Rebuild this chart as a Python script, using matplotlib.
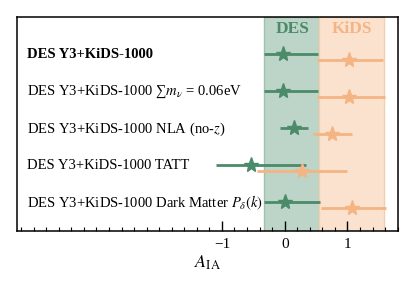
import matplotlib
matplotlib.use("Agg")
import matplotlib.pyplot as plt
from matplotlib.ticker import MultipleLocator, FixedLocator

plt.rcParams['font.family'] = ['Liberation Serif', 'DejaVu Serif']
plt.rcParams['mathtext.fontset'] = 'stix'

labels = [
    r"DES Y3+KiDS-1000",
    "DES Y3+KiDS-1000 \u2211$m_\\nu$ = 0.06eV",
    r"DES Y3+KiDS-1000 NLA (no-$z$)",
    r"DES Y3+KiDS-1000 TATT",
    r"DES Y3+KiDS-1000 Dark Matter $P_\delta(k)$",
]
des_center = [-0.03, -0.03, 0.15, -0.54, 0.0]
des_low = [-0.33, -0.33, -0.075, -1.09, -0.33]
des_high = [0.535, 0.535, 0.37, 0.34, 0.57]
kids_center = [1.03, 1.02, 0.75, 0.27, 1.07]
kids_low = [0.52, 0.52, 0.45, -0.44, 0.58]
kids_high = [1.57, 1.60, 1.07, 1.00, 1.61]
des_band = (-0.325, 0.54)
kids_band = (0.54, 1.58)

green = "#4b8b69"
orange = "#f4b483"

fig = plt.figure(figsize=(4.15, 2.9), dpi=100)
ax = fig.add_axes([0.0417, 0.2045, 0.9166, 0.7375])

ax.axvspan(*des_band, facecolor="#bdd5c8", edgecolor="#9fc2ae", lw=1.0, zorder=0)
ax.axvspan(*kids_band, facecolor="#fbe2cf", edgecolor="#f3cfae", lw=1.0, zorder=0)

n = len(labels)
ys = [n - 1 - i for i in range(n)]
off = 0.088
for i in range(n):
    y = ys[i]
    ax.errorbar(des_center[i], y + off,
                xerr=[[des_center[i] - des_low[i]], [des_high[i] - des_center[i]]],
                fmt='*', color=green, ms=11, elinewidth=2.0, capsize=0, zorder=3)
    ax.errorbar(kids_center[i], y - off,
                xerr=[[kids_center[i] - kids_low[i]], [kids_high[i] - kids_center[i]]],
                fmt='*', color=orange, ms=11, elinewidth=2.0, capsize=0, zorder=3)
    ax.text(-4.10, y + 0.05, labels[i], fontsize=10.5, va='center', ha='left',
            fontweight='bold' if i == 0 else 'normal')

ax.text(0.12, 4.74, "DES", color=green, fontsize=12.5, fontweight='bold', ha='center', va='center')
ax.text(1.07, 4.74, "KiDS", color=orange, fontsize=12.5, fontweight='bold', ha='center', va='center')

ax.set_xlim(-4.26, 1.80)
ax.set_ylim(-0.7, 5.08)
ax.set_yticks([])
ax.xaxis.set_major_locator(FixedLocator([-1, 0, 1]))
ax.xaxis.set_minor_locator(MultipleLocator(0.2))
ax.tick_params(axis='x', which='major', direction='in', length=7, width=1.0, labelsize=11, pad=5)
ax.tick_params(axis='x', which='minor', direction='in', length=3, width=0.8)
for s in ax.spines.values():
    s.set_linewidth(1.1)
ax.set_xlabel(r"$A_{\rm IA}$", fontsize=13, labelpad=2)

fig.savefig("out.png", dpi=100)
